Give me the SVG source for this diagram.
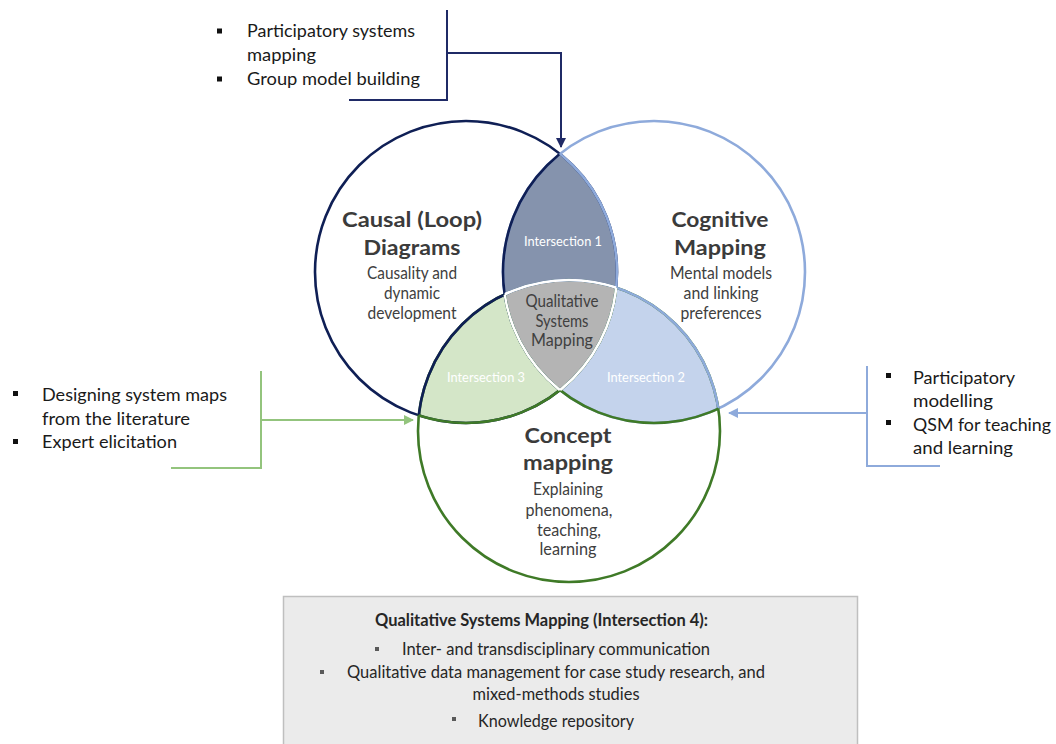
<svg xmlns="http://www.w3.org/2000/svg" width="1056" height="744" viewBox="0 0 1056 744">
<style>
text{font-family:Lato,"Open Sans","Liberation Sans",sans-serif;}
.title{font-size:21.5px;font-weight:bold;fill:#3b3b3b;text-anchor:middle;}
.sub{font-size:16.5px;fill:#404040;text-anchor:middle;}
.ilab{font-size:13px;fill:#ffffff;text-anchor:middle;}
.ctr{font-size:16.5px;fill:#404040;text-anchor:middle;}
.bul{font-size:17.5px;fill:#1a1a1a;}
.box{font-size:16.5px;fill:#262626;}
.boxb{font-size:16.5px;font-weight:bold;fill:#262626;text-anchor:middle;}
.sq{fill:#111111;}
.sqg{fill:#595959;}
.circ{fill:none;stroke-width:2.6;}
</style>
<defs>
<clipPath id="cL"><circle cx="466" cy="272" r="151"/></clipPath>
<clipPath id="cR"><circle cx="654" cy="272" r="151"/></clipPath>
<clipPath id="cG"><circle cx="569" cy="431" r="151"/></clipPath>
<marker id="aN" viewBox="0 0 10 10" refX="9" refY="5" markerWidth="10" markerHeight="10" markerUnits="userSpaceOnUse" orient="auto"><path d="M0,0 L10,5 L0,10 z" fill="#1f2a66"/></marker>
<marker id="aG" viewBox="0 0 10 10" refX="9" refY="5" markerWidth="10" markerHeight="10" markerUnits="userSpaceOnUse" orient="auto"><path d="M0,0 L10,5 L0,10 z" fill="#93c47d"/></marker>
<marker id="aB" viewBox="0 0 10 10" refX="9" refY="5" markerWidth="10" markerHeight="10" markerUnits="userSpaceOnUse" orient="auto"><path d="M0,0 L10,5 L0,10 z" fill="#8eaadb"/></marker>
</defs>

<g id="venn-fills">
<circle cx="654" cy="272" r="151" fill="#8593ad" clip-path="url(#cL)"/>
<circle cx="569" cy="431" r="151" fill="#c4d3ec" clip-path="url(#cR)"/>
<circle cx="569" cy="431" r="151" fill="#d4e6c8" clip-path="url(#cL)"/>
<g clip-path="url(#cL)"><circle cx="569" cy="431" r="151" fill="#b4b4b4" clip-path="url(#cR)"/></g>
</g>

<g id="venn-outlines">
<circle class="circ" cx="466" cy="272" r="151" stroke="#0f1f55"/>
<circle class="circ" cx="654" cy="272" r="151" stroke="#8eaadb"/>
<circle class="circ" cx="569" cy="431" r="151" stroke="#3f7a27"/>
<g clip-path="url(#cL)">
<circle class="circ" cx="654" cy="272" r="151" stroke="#0f1f55"/>
<circle class="circ" cx="569" cy="431" r="151" stroke="#0f1f55"/>
</g>
<g clip-path="url(#cR)">
<circle class="circ" cx="466" cy="272" r="151" stroke="#8eaadb"/>
<circle class="circ" cx="569" cy="431" r="151" stroke="#8eaadb"/>
</g>
<g clip-path="url(#cG)">
<circle class="circ" cx="466" cy="272" r="151" stroke="#3f7a27"/>
<circle class="circ" cx="654" cy="272" r="151" stroke="#3f7a27"/>
</g>
<g clip-path="url(#cL)"><g clip-path="url(#cR)"><circle class="circ" cx="569" cy="431" r="151" stroke="#ffffff"/></g></g>
<g clip-path="url(#cL)"><g clip-path="url(#cG)"><circle class="circ" cx="654" cy="272" r="151" stroke="#ffffff"/></g></g>
<g clip-path="url(#cR)"><g clip-path="url(#cG)"><circle class="circ" cx="466" cy="272" r="151" stroke="#ffffff"/></g></g>
</g>

<g id="node-causal">
<text class="title" x="412" y="227" textLength="140" lengthAdjust="spacingAndGlyphs">Causal (Loop)</text>
<text class="title" x="412" y="255" textLength="97" lengthAdjust="spacingAndGlyphs">Diagrams</text>
<text class="sub" x="412" y="279" textLength="90" lengthAdjust="spacingAndGlyphs">Causality and</text>
<text class="sub" x="412" y="299" textLength="56" lengthAdjust="spacingAndGlyphs">dynamic</text>
<text class="sub" x="412" y="319" textLength="89" lengthAdjust="spacingAndGlyphs">development</text>
</g>

<g id="node-cognitive">
<text class="title" x="720" y="227" textLength="97" lengthAdjust="spacingAndGlyphs">Cognitive</text>
<text class="title" x="720" y="255" textLength="92" lengthAdjust="spacingAndGlyphs">Mapping</text>
<text class="sub" x="721" y="279" textLength="102" lengthAdjust="spacingAndGlyphs">Mental models</text>
<text class="sub" x="721" y="299" textLength="75" lengthAdjust="spacingAndGlyphs">and linking</text>
<text class="sub" x="721" y="319" textLength="81" lengthAdjust="spacingAndGlyphs">preferences</text>
</g>

<g id="node-concept">
<text class="title" x="568" y="443" textLength="87" lengthAdjust="spacingAndGlyphs">Concept</text>
<text class="title" x="568" y="470" textLength="90" lengthAdjust="spacingAndGlyphs">mapping</text>
<text class="sub" x="568" y="495" textLength="70" lengthAdjust="spacingAndGlyphs">Explaining</text>
<text class="sub" x="569" y="516" textLength="87" lengthAdjust="spacingAndGlyphs">phenomena,</text>
<text class="sub" x="569" y="536" textLength="64" lengthAdjust="spacingAndGlyphs">teaching,</text>
<text class="sub" x="568" y="555" textLength="57" lengthAdjust="spacingAndGlyphs">learning</text>
</g>

<g id="node-intersection1"><text class="ilab" x="563" y="246" textLength="78" lengthAdjust="spacingAndGlyphs">Intersection 1</text></g>
<g id="node-intersection2"><text class="ilab" x="646" y="382" textLength="78" lengthAdjust="spacingAndGlyphs">Intersection 2</text></g>
<g id="node-intersection3"><text class="ilab" x="486" y="382" textLength="78" lengthAdjust="spacingAndGlyphs">Intersection 3</text></g>

<g id="node-qsm">
<text class="ctr" x="562" y="307" textLength="73" lengthAdjust="spacingAndGlyphs">Qualitative</text>
<text class="ctr" x="562" y="327" textLength="53" lengthAdjust="spacingAndGlyphs">Systems</text>
<text class="ctr" x="562" y="346" textLength="62" lengthAdjust="spacingAndGlyphs">Mapping</text>
</g>

<g id="node-top-list">
<rect class="sq" x="217" y="28.5" width="5" height="5"/>
<rect class="sq" x="217" y="76.5" width="5" height="5"/>
<text class="bul" x="247" y="37" textLength="168" lengthAdjust="spacingAndGlyphs">Participatory systems</text>
<text class="bul" x="247" y="61" textLength="69" lengthAdjust="spacingAndGlyphs">mapping</text>
<text class="bul" x="247" y="85" textLength="173" lengthAdjust="spacingAndGlyphs">Group model building</text>
</g>

<g id="node-left-list">
<rect class="sq" x="13" y="391" width="5" height="5"/>
<rect class="sq" x="13" y="439" width="5" height="5"/>
<text class="bul" x="42" y="401" textLength="185" lengthAdjust="spacingAndGlyphs">Designing system maps</text>
<text class="bul" x="42" y="425" textLength="148" lengthAdjust="spacingAndGlyphs">from the literature</text>
<text class="bul" x="42" y="448" textLength="135" lengthAdjust="spacingAndGlyphs">Expert elicitation</text>
</g>

<g id="node-right-list">
<rect class="sq" x="886" y="373" width="5" height="5"/>
<rect class="sq" x="886" y="420" width="5" height="5"/>
<text class="bul" x="913" y="384" textLength="102" lengthAdjust="spacingAndGlyphs">Participatory</text>
<text class="bul" x="913" y="407" textLength="80" lengthAdjust="spacingAndGlyphs">modelling</text>
<text class="bul" x="913" y="431" textLength="138" lengthAdjust="spacingAndGlyphs">QSM for teaching</text>
<text class="bul" x="913" y="454" textLength="100" lengthAdjust="spacingAndGlyphs">and learning</text>
</g>

<g id="node-qsm-box">
<rect x="283.5" y="596.5" width="574" height="160" fill="#ebebeb" stroke="#bfbfbf" stroke-width="1.5"/>
<text class="boxb" x="541.5" y="626" textLength="333" lengthAdjust="spacingAndGlyphs">Qualitative Systems Mapping (Intersection 4):</text>
<rect class="sqg" x="375" y="647" width="4" height="4"/>
<text class="box" x="402" y="655" textLength="308" lengthAdjust="spacingAndGlyphs">Inter- and transdisciplinary communication</text>
<rect class="sqg" x="320" y="670" width="4" height="4"/>
<text class="box" x="347" y="678" textLength="418" lengthAdjust="spacingAndGlyphs">Qualitative data management for case study research, and</text>
<text class="box" x="556" y="700" text-anchor="middle" textLength="167" lengthAdjust="spacingAndGlyphs">mixed-methods studies</text>
<rect class="sqg" x="452" y="717" width="4" height="4"/>
<text class="box" x="478" y="727" textLength="156" lengthAdjust="spacingAndGlyphs">Knowledge repository</text>
</g>

<g id="connectors" fill="none">
<path d="M447,10 V100 H349" stroke="#1f2a66" stroke-width="2"/>
<path d="M447,53 H561 V147" stroke="#1f2a66" stroke-width="2" marker-end="url(#aN)"/>
<path d="M261,371 V468 H171" stroke="#93c47d" stroke-width="2"/>
<path d="M261,420 H413" stroke="#93c47d" stroke-width="2" marker-end="url(#aG)"/>
<path d="M867,366 V466 H940" stroke="#8eaadb" stroke-width="2"/>
<path d="M867,413 H729" stroke="#8eaadb" stroke-width="2" marker-end="url(#aB)"/>
</g>
</svg>
